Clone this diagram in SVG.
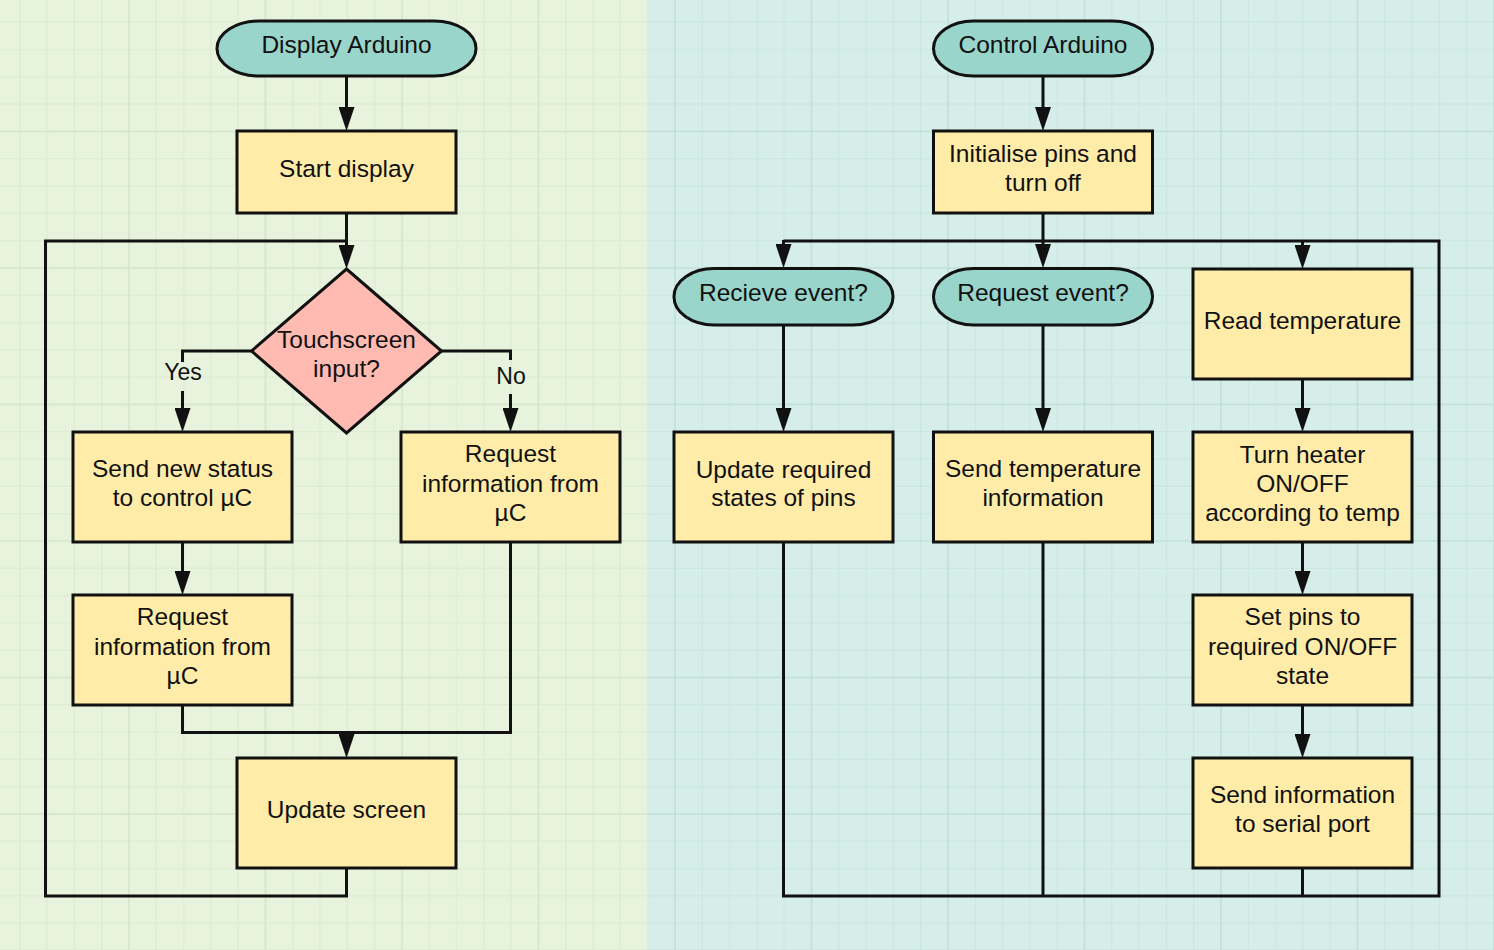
<svg xmlns="http://www.w3.org/2000/svg" width="1494" height="950" viewBox="0 0 1494 950">
<style>
.box{fill:#ffeca9;stroke:#111;stroke-width:3}
.term{fill:#99d5ca;stroke:#111;stroke-width:3}
.dec{fill:#ffbbb1;stroke:#111;stroke-width:3}
.t{font-family:"Liberation Sans",Arial,sans-serif;font-size:24.5px;fill:#111;text-anchor:middle}
.lbl{font-family:"Liberation Sans",Arial,sans-serif;font-size:23px;fill:#111;text-anchor:middle}
.c{fill:none;stroke:#111;stroke-width:3;stroke-linejoin:miter;stroke-linecap:butt}
.a{marker-end:url(#arr)}
</style>
<defs>
<marker id="arr" viewBox="0 0 24 16" refX="4" refY="8" markerWidth="24" markerHeight="16" markerUnits="userSpaceOnUse" orient="auto">
<path d="M0,0 L24,8 L0,16 z" fill="#111"/>
</marker>
<pattern id="gridL" x="19.3" y="21.7" width="136.5" height="136.5" patternUnits="userSpaceOnUse">
<rect width="136.5" height="136.5" fill="#e7f3dc"/>
<path d="M0.5,0V136.5M27.8,0V136.5M55.1,0V136.5M82.4,0V136.5M0,0.5H136.5M0,27.8H136.5M0,55.1H136.5M0,82.4H136.5" stroke="#dbead1" stroke-width="1"/>
<path d="M109.7,0V136.5M0,109.7H136.5" stroke="#d1e2c6" stroke-width="1.3"/>
</pattern>
<pattern id="gridR" x="19.3" y="21.7" width="136.5" height="136.5" patternUnits="userSpaceOnUse">
<rect width="136.5" height="136.5" fill="#d6eee9"/>
<path d="M0.5,0V136.5M27.8,0V136.5M55.1,0V136.5M82.4,0V136.5M0,0.5H136.5M0,27.8H136.5M0,55.1H136.5M0,82.4H136.5" stroke="#c9e4de" stroke-width="1"/>
<path d="M109.7,0V136.5M0,109.7H136.5" stroke="#bedad4" stroke-width="1.3"/>
</pattern>
</defs>
<g id="background">
<rect x="0" y="0" width="647.3" height="950" fill="url(#gridL)"/>
<rect x="647.3" y="0" width="846.7" height="950" fill="url(#gridR)"/>
</g>
<g id="connectors">
<path class="c a" d="M346.5,76V111"/>
<path class="c a" d="M346.5,213V249"/>
<path class="c" d="M346.5,868V896H45.5V241H346.5"/>
<path class="c" d="M251,351H182.5V362M182.5,391V412"/>
<path class="c a" d="M182.5,400V412"/>
<path class="c" d="M441,351H510.5V360M510.5,394V412"/>
<path class="c a" d="M510.5,400V412"/>
<path class="c a" d="M182.5,542V575"/>
<path class="c" d="M182.5,705V732.5H510.5V542"/>
<path class="c a" d="M346.5,731V738"/>
<path class="c a" d="M1043,76V111"/>
<path class="c a" d="M1043,213V248"/>
<path class="c" d="M783.5,241H1439V896H783.5V542M1043,896V542M1302.5,896V868"/>
<path class="c a" d="M783.5,240V248"/>
<path class="c a" d="M1302.5,240V249"/>
<path class="c a" d="M783.5,325V412"/>
<path class="c a" d="M1043,325V412"/>
<path class="c a" d="M1302.5,379V412"/>
<path class="c a" d="M1302.5,542V575"/>
<path class="c a" d="M1302.5,705V738"/>
</g>
<g id="labels">
<text class="lbl" x="183" y="379.5">Yes</text>
<text class="lbl" x="511" y="383.5">No</text>
</g>
<g id="display-arduino">
<rect class="term" x="217" y="21" width="259" height="55" rx="42" ry="27.5"/>
<text class="t" x="346.5" y="53">Display Arduino</text>
</g>
<g id="start-display">
<rect class="box" x="237" y="131" width="219" height="82"/>
<text class="t" x="346.5" y="176.5">Start display</text>
</g>
<g id="touchscreen-input">
<polygon class="dec" points="346.5,269 441.5,351 346.5,433 251.5,351"/>
<text class="t" x="346.5" y="347.5">Touchscreen</text>
<text class="t" x="346.5" y="377">input?</text>
</g>
<g id="send-new-status">
<rect class="box" x="73" y="432" width="219" height="110"/>
<text class="t" x="182.5" y="477">Send new status</text>
<text class="t" x="182.5" y="506">to control µC</text>
</g>
<g id="request-info-right">
<rect class="box" x="401" y="432" width="219" height="110"/>
<text class="t" x="510.5" y="462">Request</text>
<text class="t" x="510.5" y="491.5">information from</text>
<text class="t" x="510.5" y="521">µC</text>
</g>
<g id="request-info-left">
<rect class="box" x="73" y="595" width="219" height="110"/>
<text class="t" x="182.5" y="625">Request</text>
<text class="t" x="182.5" y="654.5">information from</text>
<text class="t" x="182.5" y="684">µC</text>
</g>
<g id="update-screen">
<rect class="box" x="237" y="758" width="219" height="110"/>
<text class="t" x="346.5" y="817.5">Update screen</text>
</g>
<g id="control-arduino">
<rect class="term" x="933.5" y="21" width="219" height="55" rx="40" ry="27.5"/>
<text class="t" x="1043" y="53">Control Arduino</text>
</g>
<g id="initialise-pins">
<rect class="box" x="933.5" y="131" width="219" height="82"/>
<text class="t" x="1043" y="161.5">Initialise pins and</text>
<text class="t" x="1043" y="191">turn off</text>
</g>
<g id="recieve-event">
<rect class="term" x="674" y="268.5" width="219" height="56.5" rx="40" ry="28"/>
<text class="t" x="783.5" y="301">Recieve event?</text>
</g>
<g id="request-event">
<rect class="term" x="933.5" y="268.5" width="219" height="56.5" rx="40" ry="28"/>
<text class="t" x="1043" y="301">Request event?</text>
</g>
<g id="read-temperature">
<rect class="box" x="1193" y="269" width="219" height="110"/>
<text class="t" x="1302.5" y="328.5">Read temperature</text>
</g>
<g id="update-required-states">
<rect class="box" x="674" y="432" width="219" height="110"/>
<text class="t" x="783.5" y="477.5">Update required</text>
<text class="t" x="783.5" y="506">states of pins</text>
</g>
<g id="send-temperature">
<rect class="box" x="933.5" y="432" width="219" height="110"/>
<text class="t" x="1043" y="477">Send temperature</text>
<text class="t" x="1043" y="506">information</text>
</g>
<g id="turn-heater">
<rect class="box" x="1193" y="432" width="219" height="110"/>
<text class="t" x="1302.5" y="462.5">Turn heater</text>
<text class="t" x="1302.5" y="491.5">ON/OFF</text>
<text class="t" x="1302.5" y="521">according to temp</text>
</g>
<g id="set-pins">
<rect class="box" x="1193" y="595" width="219" height="110"/>
<text class="t" x="1302.5" y="625">Set pins to</text>
<text class="t" x="1302.5" y="654.5">required ON/OFF</text>
<text class="t" x="1302.5" y="684">state</text>
</g>
<g id="send-serial">
<rect class="box" x="1193" y="758" width="219" height="110"/>
<text class="t" x="1302.5" y="803">Send information</text>
<text class="t" x="1302.5" y="832">to serial port</text>
</g>
</svg>
